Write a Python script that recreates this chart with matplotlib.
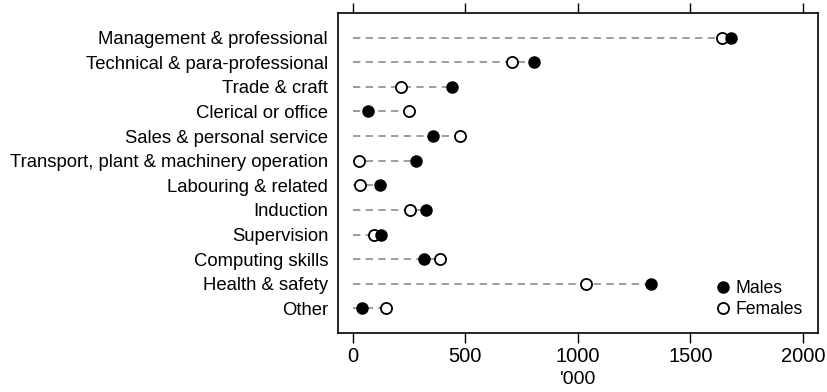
import numpy as np
import matplotlib
matplotlib.use("Agg")
import matplotlib.pyplot as plt
from matplotlib.lines import Line2D

plt.rcParams["font.family"] = ["Liberation Sans", "DejaVu Sans"]

categories = [
    "Management & professional",
    "Technical & para-professional",
    "Trade & craft",
    "Clerical or office",
    "Sales & personal service",
    "Transport, plant & machinery operation",
    "Labouring & related",
    "Induction",
    "Supervision",
    "Computing skills",
    "Health & safety",
    "Other",
]
males   = [1680, 805, 440, 65, 358, 280, 121, 327, 124, 316, 1325, 41]
females = [1638, 705, 212, 249, 478, 25, 31, 253, 95, 387, 1036, 147]

fig = plt.figure(figsize=(8.28, 3.92), dpi=100)
ax = fig.add_axes([0.408, 0.1505, 0.58, 0.8163])

n = len(categories)
y = np.arange(n, 0, -1)

for yi, m, f in zip(y, males, females):
    ax.plot([0, max(m, f)], [yi, yi], color="#8c8c8c", lw=1.2,
            dashes=(4.4, 3.2), zorder=1)
ax.plot(females, y, "o", ms=8, mfc="white", mec="black", mew=1.3, zorder=3)
ax.plot(males, y, "o", ms=8, mfc="black", mec="black", zorder=4)

ax.set_xlim(-67, 2067)
ax.set_ylim(0, n + 1)
ax.set_yticks(y)
ax.set_yticklabels(categories, fontsize=13.3)
ax.tick_params(axis="y", length=0, pad=7)
ax.set_xticks([0, 500, 1000, 1500, 2000])
ax.tick_params(axis="x", which="both", top=True, bottom=True, labeltop=False,
               direction="out", length=7, width=1, labelsize=14.5, pad=3)
ax.set_xlabel("'000", fontsize=14, labelpad=4)
for s in ax.spines.values():
    s.set_linewidth(1.2)

handles = [
    Line2D([], [], marker="o", ls="none", ms=8, mfc="black", mec="black"),
    Line2D([], [], marker="o", ls="none", ms=8, mfc="white", mec="black", mew=1.3),
]
ax.legend(handles, ["Males", "Females"], loc="lower right", frameon=False,
          fontsize=12.7, handletextpad=0.1, labelspacing=0.2,
          borderaxespad=0.45, handlelength=1.2)

fig.savefig("out.png", dpi=100)
